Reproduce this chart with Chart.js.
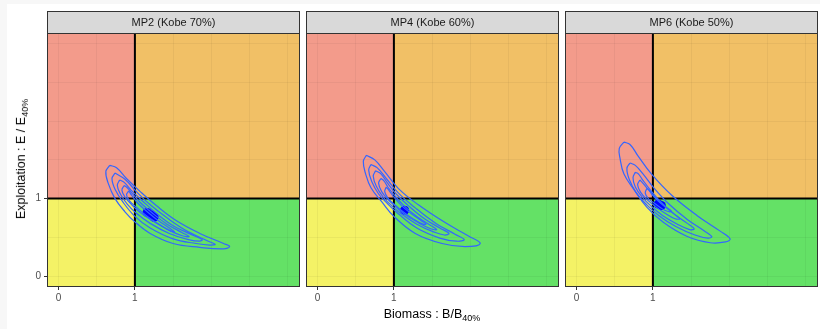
<!DOCTYPE html>
<html>
<head>
<meta charset="utf-8">
<script src="https://cdn.jsdelivr.net/npm/chart.js@4.4.0/dist/chart.umd.min.js"></script>
<style>
    html, body { margin: 0; padding: 0; background: #f7f7f7; width: 820px; height: 329px; overflow: hidden; }
    #frame { position: absolute; left: 7px; top: 4px; width: 813px; height: 325px; background: #fff; }
    .panel { position: absolute; top: 0; height: 329px; }
    .axis-title { position: absolute; white-space: nowrap; font-family: "Liberation Sans", Arial, sans-serif; font-size: 12.5px; color: #000; }
    .axis-title sub { font-size: 0.72em; vertical-align: -0.35em; }
    #y-title { left: 22px; top: 159px; transform: translate(-50%, -50%) rotate(-90deg); }
    #x-title { left: 432px; top: 315px; transform: translate(-50%, -50%); }
</style>
</head>
<body>
<div id="frame"></div>
<div class="panel" style="left:0;width:300px"><canvas id="panel-mp2"></canvas></div>
<div class="panel" style="left:306px;width:253px"><canvas id="panel-mp4"></canvas></div>
<div class="panel" style="left:565px;width:253px"><canvas id="panel-mp6"></canvas></div>
<div id="y-title" class="axis-title">Exploitation : E / E<sub>40%</sub></div>
<div id="x-title" class="axis-title">Biomass : B/B<sub>40%</sub></div>

<script>
// facet titles
const panelTitles = ['MP2 (Kobe 70%)', 'MP4 (Kobe 60%)', 'MP6 (Kobe 50%)'];
// labelled ticks and grid breaks (same on both axes)
const tickLabels = [0, 1];
const gridBreaks = [0, 0.5, 1, 1.5, 2, 2.5, 3];
// reference points B/B40% = 1, E/E40% = 1
const refBiomass = 1;
const refExploitation = 1;

// density contours [B/B40%, E/E40%], outer -> inner
const mp2Contours = [
    [[0.67, 1.43], [0.62, 1.35], [0.65, 1.20], [0.74, 1.00], [0.87, 0.83], [1.0, 0.70], [1.20, 0.55], [1.50, 0.42], [1.85, 0.37], [2.16, 0.35], [2.24, 0.38], [2.16, 0.42], [1.85, 0.55], [1.55, 0.71], [1.28, 0.91], [1.07, 1.09], [0.89, 1.26], [0.76, 1.40]],
    [[0.74, 1.33], [0.70, 1.26], [0.74, 1.12], [0.84, 0.96], [1.0, 0.77], [1.20, 0.62], [1.50, 0.48], [1.80, 0.42], [1.98, 0.40], [2.05, 0.41], [1.96, 0.45], [1.70, 0.57], [1.45, 0.73], [1.20, 0.92], [1.02, 1.09], [0.87, 1.25]],
    [[0.80, 1.24], [0.77, 1.17], [0.81, 1.06], [0.90, 0.93], [1.02, 0.81], [1.20, 0.68], [1.45, 0.55], [1.70, 0.47], [1.85, 0.45], [1.88, 0.47], [1.75, 0.53], [1.50, 0.65], [1.28, 0.81], [1.10, 0.97], [0.96, 1.10], [0.86, 1.21]],
    [[0.86, 1.17], [0.83, 1.11], [0.87, 1.02], [0.96, 0.92], [1.07, 0.82], [1.25, 0.70], [1.45, 0.59], [1.62, 0.52], [1.71, 0.51], [1.62, 0.56], [1.42, 0.67], [1.22, 0.82], [1.07, 0.95], [0.97, 1.06], [0.90, 1.14]],
    [[0.92, 1.10], [0.89, 1.05], [0.93, 0.97], [1.02, 0.89], [1.15, 0.78], [1.30, 0.68], [1.45, 0.59], [1.52, 0.57], [1.45, 0.62], [1.30, 0.72], [1.15, 0.84], [1.03, 0.95], [0.96, 1.04]]
];
const mp4Contours = [
    [[0.64, 1.56], [0.60, 1.48], [0.63, 1.32], [0.70, 1.14], [0.84, 0.96], [1.0, 0.77], [1.28, 0.55], [1.63, 0.42], [1.93, 0.38], [2.13, 0.42], [1.97, 0.52], [1.67, 0.69], [1.32, 0.92], [1.06, 1.13], [0.88, 1.35], [0.75, 1.50]],
    [[0.70, 1.44], [0.67, 1.37], [0.71, 1.22], [0.80, 1.06], [0.92, 0.93], [1.05, 0.81], [1.30, 0.62], [1.60, 0.49], [1.82, 0.45], [1.92, 0.47], [1.80, 0.54], [1.55, 0.68], [1.28, 0.88], [1.06, 1.07], [0.90, 1.26], [0.78, 1.40]],
    [[0.76, 1.36], [0.73, 1.29], [0.77, 1.16], [0.86, 1.02], [0.97, 0.91], [1.10, 0.80], [1.30, 0.67], [1.52, 0.57], [1.66, 0.53], [1.72, 0.55], [1.60, 0.62], [1.40, 0.74], [1.20, 0.90], [1.03, 1.06], [0.91, 1.21], [0.83, 1.32]],
    [[0.83, 1.26], [0.80, 1.20], [0.84, 1.09], [0.92, 0.99], [1.03, 0.89], [1.15, 0.79], [1.32, 0.69], [1.48, 0.61], [1.56, 0.60], [1.47, 0.66], [1.30, 0.77], [1.13, 0.91], [1.01, 1.04], [0.92, 1.15], [0.87, 1.23]],
    [[0.90, 1.15], [0.88, 1.09], [0.92, 1.01], [1.00, 0.93], [1.12, 0.83], [1.25, 0.74], [1.38, 0.67], [1.42, 0.67], [1.35, 0.72], [1.22, 0.81], [1.09, 0.92], [1.00, 1.02], [0.94, 1.10]]
];
const mp6Contours = [
    [[0.62, 1.73], [0.56, 1.65], [0.57, 1.52], [0.62, 1.32], [0.75, 1.12], [0.92, 0.89], [1.14, 0.69], [1.45, 0.51], [1.75, 0.43], [1.95, 0.44], [2.01, 0.48], [1.88, 0.58], [1.58, 0.78], [1.25, 1.04], [0.98, 1.32], [0.80, 1.56], [0.70, 1.70]],
    [[0.70, 1.46], [0.66, 1.39], [0.69, 1.25], [0.78, 1.08], [0.92, 0.92], [1.08, 0.78], [1.30, 0.64], [1.55, 0.53], [1.72, 0.49], [1.77, 0.51], [1.66, 0.59], [1.45, 0.73], [1.22, 0.92], [1.02, 1.13], [0.87, 1.32], [0.77, 1.43]],
    [[0.77, 1.34], [0.74, 1.27], [0.77, 1.15], [0.86, 1.02], [0.98, 0.90], [1.13, 0.78], [1.32, 0.67], [1.48, 0.60], [1.54, 0.61], [1.45, 0.68], [1.28, 0.80], [1.10, 0.96], [0.96, 1.12], [0.86, 1.25], [0.81, 1.32]],
    [[0.83, 1.24], [0.80, 1.18], [0.84, 1.08], [0.92, 0.99], [1.03, 0.90], [1.16, 0.81], [1.29, 0.74], [1.35, 0.74], [1.28, 0.80], [1.14, 0.91], [1.02, 1.03], [0.92, 1.14], [0.86, 1.21]],
    [[0.92, 1.13], [0.90, 1.07], [0.94, 1.00], [1.02, 0.94], [1.12, 0.87], [1.21, 0.83], [1.24, 0.84], [1.17, 0.89], [1.07, 0.97], [0.99, 1.05], [0.95, 1.11]]
];
// median terminal-year status
const mp2Median = [[1.16, 0.82], [1.21, 0.79], [1.25, 0.76]];
const mp4Median = [[1.14, 0.85]];
const mp6Median = [[1.07, 0.93], [1.11, 0.91]];

Chart.defaults.font.family = '"Liberation Sans", Arial, sans-serif';

const quadrantColors = {
    overfished: '#F39B8B',   // B < 1, E > 1
    recovering: '#F1C066',   // B > 1, E > 1
    fishedDown: '#F4F266',   // B < 1, E < 1
    healthy: '#64E166'       // B > 1, E < 1
};

const kobePlugin = {
    id: 'kobe',
    beforeDraw(chart) {
        const ctx = chart.ctx;
        const {left, right, top, bottom} = chart.chartArea;
        const xRef = chart.scales.x.getPixelForValue(refBiomass);
        const yRef = chart.scales.y.getPixelForValue(refExploitation);
        ctx.save();
        ctx.fillStyle = quadrantColors.overfished;
        ctx.fillRect(left, top, xRef - left, yRef - top);
        ctx.fillStyle = quadrantColors.recovering;
        ctx.fillRect(xRef, top, right - xRef, yRef - top);
        ctx.fillStyle = quadrantColors.fishedDown;
        ctx.fillRect(left, yRef, xRef - left, bottom - yRef);
        ctx.fillStyle = quadrantColors.healthy;
        ctx.fillRect(xRef, yRef, right - xRef, bottom - yRef);
        ctx.restore();
    },
    beforeDatasetsDraw(chart) {
        const ctx = chart.ctx;
        const {left, right, top, bottom} = chart.chartArea;
        const xRef = chart.scales.x.getPixelForValue(refBiomass);
        const yRef = chart.scales.y.getPixelForValue(refExploitation);
        ctx.save();
        ctx.strokeStyle = '#000';
        ctx.lineWidth = 2;
        ctx.beginPath();
        ctx.moveTo(xRef, top);
        ctx.lineTo(xRef, bottom);
        ctx.moveTo(left, yRef);
        ctx.lineTo(right, yRef);
        ctx.stroke();
        ctx.restore();
    },
    afterDraw(chart, args, opts) {
        const ctx = chart.ctx;
        const {left, right, top, bottom} = chart.chartArea;
        ctx.save();
        ctx.strokeStyle = '#333333';
        ctx.lineWidth = 1;
        ctx.strokeRect(left + 0.5, top + 0.5, right - left - 1, bottom - top - 1);
        // facet strip
        const stripTop = 11;
        ctx.fillStyle = '#D9D9D9';
        ctx.fillRect(left, stripTop, right - left, top - stripTop);
        ctx.strokeRect(left + 0.5, stripTop + 0.5, right - left - 1, top - stripTop);
        ctx.fillStyle = '#1A1A1A';
        ctx.font = '11px "Liberation Sans", Arial, sans-serif';
        ctx.textAlign = 'center';
        ctx.textBaseline = 'middle';
        ctx.fillText(opts.title, (left + right) / 2, (stripTop + top) / 2 + 1);
        ctx.restore();
    }
};

function axisOptions(showTicks, fitSize, horizontal) {
    return {
        type: 'linear',
        min: horizontal ? -0.15 : -0.142,
        max: horizontal ? 3.16 : 3.14,
        afterBuildTicks: scale => {
            scale.ticks = gridBreaks.map(v => ({value: v}));
        },
        afterFit: scale => {
            if (horizontal) {
                scale.height = fitSize;
            } else {
                scale.width = fitSize;
            }
            scale.paddingLeft = 0;
            scale.paddingRight = 0;
            scale.paddingTop = 0;
            scale.paddingBottom = 0;
        },
        border: {display: false},
        grid: {
            color: 'rgba(0, 0, 0, 0.045)',
            lineWidth: 1,
            drawTicks: showTicks,
            tickLength: 3,
            tickColor: ctx => tickLabels.includes(ctx.tick.value) ? '#333333' : 'rgba(0,0,0,0)'
        },
        ticks: {
            display: showTicks,
            autoSkip: false,
            maxRotation: 0,
            padding: horizontal ? 2 : 3,
            color: '#4D4D4D',
            font: {size: 10},
            callback: value => tickLabels.includes(value) ? String(value) : ''
        }
    };
}

function buildPanel(canvasId, title, contours, median, firstPanel) {
    const datasets = contours.map(ring => ({
        data: ring.concat([ring[0]]).map(p => ({x: p[0], y: p[1]})),
        showLine: true,
        fill: false,
        borderColor: '#3366FF',
        borderWidth: 1.2,
        tension: 0.4,
        pointRadius: 0
    }));
    datasets.push({
        data: median.map(p => ({x: p[0], y: p[1]})),
        showLine: false,
        pointRadius: 4.6,
        pointBorderWidth: 0,
        backgroundColor: '#0000FF'
    });

    return new Chart(document.getElementById(canvasId), {
        type: 'scatter',
        data: {datasets: datasets},
        options: {
            responsive: true,
            maintainAspectRatio: false,
            animation: false,
            layout: {autoPadding: false, padding: {top: 33, left: 0, right: 0, bottom: 0}},
            scales: {
                x: axisOptions(true, 42, true),
                y: axisOptions(firstPanel, firstPanel ? 47 : 0, false)
            },
            plugins: {
                legend: {display: false},
                tooltip: {enabled: false},
                kobe: {title: title}
            }
        },
        plugins: [kobePlugin]
    });
}

buildPanel('panel-mp2', panelTitles[0], mp2Contours, mp2Median, true);
buildPanel('panel-mp4', panelTitles[1], mp4Contours, mp4Median, false);
buildPanel('panel-mp6', panelTitles[2], mp6Contours, mp6Median, false);
</script>
</body>
</html>
